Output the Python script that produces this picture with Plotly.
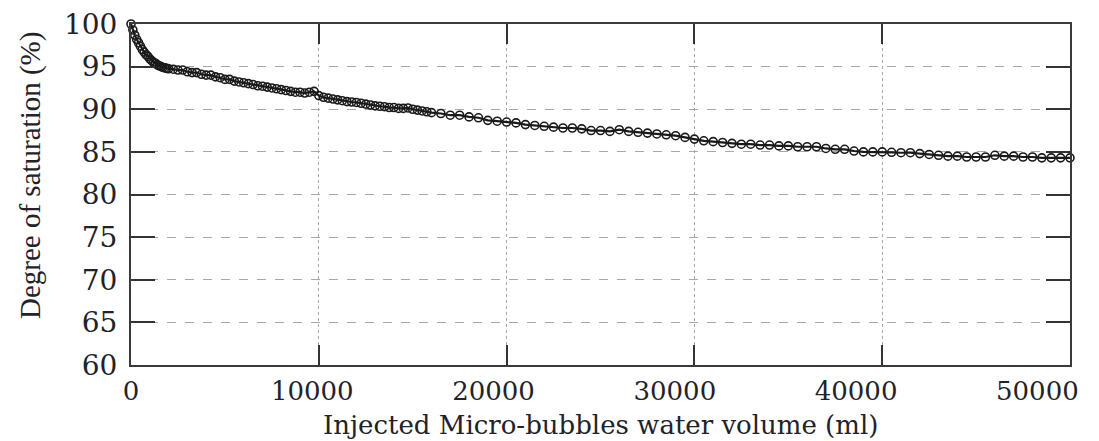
import plotly.graph_objects as go

volume_ml = [
    0, 100, 200, 300, 400, 500, 600, 700, 800, 900, 1000, 1100, 1200, 1300, 1400, 1500, 1600, 1700, 1800, 1900, 2000,
    2250, 2500, 2750, 3000, 3250, 3500, 3750, 4000, 4250, 4500, 4750, 5000, 5250, 5500, 5750, 6000, 6250, 6500, 6750,
    7000, 7250, 7500, 7750, 8000, 8250, 8500, 8750, 9000, 9250, 9500, 9750, 10000, 10250, 10500, 10750, 11000, 11250,
    11500, 11750, 12000, 12250, 12500, 12750, 13000, 13250, 13500, 13750, 14000, 14250, 14500, 14750, 15000, 15250,
    15500, 15750, 16000,
    16500, 17000, 17500, 18000, 18500, 19000, 19500, 20000, 20500, 21000, 21500, 22000, 22500, 23000, 23500, 24000,
    24500, 25000, 25500, 26000, 26500, 27000, 27500, 28000, 28500, 29000, 29500, 30000, 30500, 31000, 31500, 32000,
    32500, 33000, 33500, 34000, 34500, 35000, 35500, 36000, 36500, 37000, 37500, 38000, 38500, 39000, 39500, 40000,
    40500, 41000, 41500, 42000, 42500, 43000, 43500, 44000, 44500, 45000, 45500, 46000, 46500, 47000, 47500, 48000,
    48500, 49000, 49500, 50000,
]

saturation_pct = [
    100.0, 99.3, 98.7, 98.2, 97.8, 97.4, 97.0, 96.7, 96.4, 96.2, 95.9, 95.7, 95.5, 95.4, 95.2, 95.1, 95.0, 94.9, 94.85, 94.8, 94.75,
    94.7, 94.6, 94.6, 94.4, 94.3, 94.3, 94.1, 94.0, 94.0, 93.8, 93.7, 93.5, 93.5, 93.3, 93.2, 93.1, 93.0, 92.9, 92.75,
    92.7, 92.6, 92.5, 92.4, 92.3, 92.2, 92.1, 92.0, 92.0, 91.9, 92.0, 92.1, 91.6, 91.4, 91.3, 91.2, 91.1, 91.0,
    90.9, 90.85, 90.8, 90.7, 90.6, 90.5, 90.4, 90.35, 90.3, 90.2, 90.2, 90.1, 90.1, 90.15, 90.0, 89.9,
    89.8, 89.7, 89.6,
    89.5, 89.3, 89.3, 89.1, 89.0, 88.7, 88.6, 88.5, 88.4, 88.2, 88.1, 88.0, 87.9, 87.8, 87.8, 87.7,
    87.5, 87.5, 87.4, 87.6, 87.4, 87.3, 87.2, 87.1, 87.0, 86.9, 86.7, 86.5, 86.3, 86.2, 86.1, 86.0,
    85.9, 85.9, 85.8, 85.8, 85.7, 85.7, 85.6, 85.6, 85.6, 85.4, 85.3, 85.3, 85.1, 85.0, 85.0, 85.0,
    84.95, 84.9, 84.9, 84.8, 84.7, 84.6, 84.5, 84.5, 84.4, 84.4, 84.4, 84.6, 84.5, 84.5, 84.4, 84.4,
    84.3, 84.3, 84.3, 84.3,
]

x_ticks = [0, 10000, 20000, 30000, 40000, 50000]
y_ticks = [60, 65, 70, 75, 80, 85, 90, 95, 100]
x_title = "Injected Micro-bubbles water volume (ml)"
y_title = "Degree of saturation (%)"

ink = "#222228"
y_tick_font = dict(family="DejaVu Serif", size=28, color=ink)
x_tick_font = dict(family="DejaVu Serif", size=26, color=ink)

fig = go.Figure()
fig.add_trace(go.Scatter(
    x=volume_ml, y=saturation_pct, mode="lines+markers",
    line=dict(color="#1a1a1a", width=2.2),
    marker=dict(symbol="circle-open", size=8, color="#1a1a1a", line=dict(width=1.6)),
    showlegend=False, cliponaxis=False, hoverinfo="skip",
))
# carrier trace for the label-only axis (the printed labels sit on a slightly compressed scale)
fig.add_trace(go.Scatter(x=[0], y=[None], xaxis="x2", showlegend=False, hoverinfo="skip"))

# the page body adds an 8 px offset, so the figure is sized 8 px smaller on each axis
fig.update_layout(
    width=1091, height=433,
    margin=dict(l=123, r=29, t=16, b=76, autoexpand=False),
    paper_bgcolor="white", plot_bgcolor="white",
    xaxis=dict(
        range=[0, 50000], tickvals=x_ticks, showticklabels=False, automargin=False,
        ticks="inside", ticklen=20, tickwidth=2, tickcolor="#333333",
        showline=True, linecolor="#3a3a3a", linewidth=2, mirror="ticks",
        showgrid=True, gridcolor="#a8a8a8", griddash="dot", gridwidth=1,
        zeroline=False,
    ),
    xaxis2=dict(
        overlaying="x", side="bottom", anchor="y", automargin=False,
        range=[0, 51800], tickvals=x_ticks, ticktext=[str(v) for v in x_ticks],
        ticks="", showline=False, showgrid=False, zeroline=False,
        tickfont=x_tick_font, ticklabelstandoff=8, ticklabeloverflow="allow",
    ),
    yaxis=dict(
        range=[60, 100], tickvals=y_ticks, ticktext=[str(v) for v in y_ticks], automargin=False,
        ticks="inside", ticklen=24, tickwidth=2, tickcolor="#333333",
        showline=True, linecolor="#3a3a3a", linewidth=2, mirror="ticks",
        showgrid=True, gridcolor="#a8a8a8", griddash="dash", gridwidth=1,
        zeroline=False, tickfont=y_tick_font, ticklabelstandoff=6, ticklabeloverflow="allow",
    ),
    annotations=[
        dict(text=y_title, textangle=-90,
             xref="paper", yref="paper", x=-0.1076, y=0.557, xanchor="center", yanchor="middle",
             showarrow=False, font=dict(family="Liberation Serif", size=29, color=ink)),
        dict(text=x_title,
             xref="paper", yref="paper", x=0.5, y=-0.125, xanchor="center", yanchor="top",
             showarrow=False, font=dict(family="DejaVu Serif", size=26, color=ink)),
    ],
)

fig.write_html("out.html")
